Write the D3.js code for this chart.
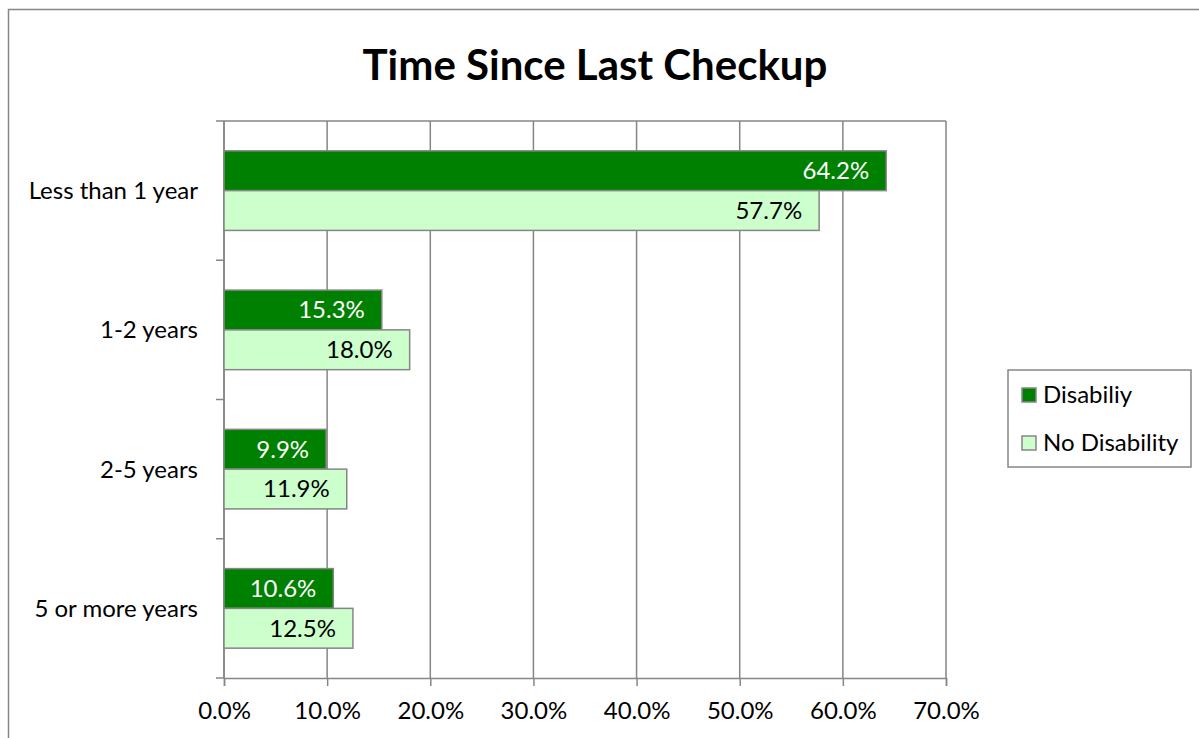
<!DOCTYPE html>
<html>
<head>
<meta charset="utf-8">
<script src="https://cdn.jsdelivr.net/npm/d3@7"></script>
<style>
  body { margin: 0; background: #fff; }
  svg { display: block; font-family: Lato, "Open Sans", sans-serif; }
</style>
</head>
<body>
<script>
const categories = ["Less than 1 year", "1-2 years", "2-5 years", "5 or more years"];
const seriesNames = ["Disabiliy", "No Disability"];
const disability = [64.2, 15.3, 9.9, 10.6];
const noDisability = [57.7, 18.0, 11.9, 12.5];
const xTicks = [0, 10, 20, 30, 40, 50, 60, 70];

const width = 1199, height = 738;
const colors = ["#008000", "#CCFFCC"];
const gridColor = "#868686";
const fontSize = "24px";

const svg = d3.select("body").append("svg")
  .attr("width", width).attr("height", height);

// outer chart border (runs off the right/bottom of the picture)
svg.append("rect")
  .attr("x", 8.5).attr("y", 9.5)
  .attr("width", width + 20).attr("height", height + 20)
  .attr("fill", "#fff").attr("stroke", gridColor).attr("stroke-width", 1.5);

svg.append("text")
  .attr("x", 595).attr("y", 80)
  .attr("text-anchor", "middle")
  .style("font-size", "42px").style("font-weight", "bold")
  .text("Time Since Last Checkup");

const plot = {left: 224, right: 946, top: 121, bottom: 678};

const x = d3.scaleLinear().domain([0, 70]).range([plot.left, plot.right]);
const y = d3.scaleBand().domain(categories).range([plot.top, plot.bottom])
  .paddingInner(0.75 / 1.75).paddingOuter(0.75 / 3.5);
const ySub = d3.scaleBand().domain(seriesNames).range([0, y.bandwidth()]);

// vertical gridlines
svg.append("g").selectAll("line").data(xTicks).join("line")
  .attr("x1", d => x(d)).attr("x2", d => x(d))
  .attr("y1", plot.top).attr("y2", plot.bottom)
  .attr("stroke", gridColor).attr("stroke-width", 1.5);

// top border of plot
svg.append("line")
  .attr("x1", plot.left).attr("x2", plot.right).attr("y1", plot.top).attr("y2", plot.top)
  .attr("stroke", gridColor).attr("stroke-width", 1.5);

// x axis
const xAxis = svg.append("g")
  .attr("transform", `translate(0,${plot.bottom})`)
  .call(d3.axisBottom(x).tickValues(xTicks).tickSize(8).tickPadding(16)
    .tickFormat(d => d.toFixed(1) + "%"));
xAxis.select(".domain").attr("stroke", gridColor).attr("stroke-width", 1.5);
xAxis.selectAll(".tick line").attr("stroke", gridColor).attr("stroke-width", 1.5);
xAxis.selectAll("text").style("font-size", fontSize).attr("fill", "#000")
  .style("font-family", "Lato, sans-serif");

// y axis
const bandEdges = categories.map(c => y(c) - y.step() * y.paddingInner() / 2);
bandEdges.push(plot.bottom);
const yAxis = svg.append("g");
yAxis.append("line")
  .attr("x1", plot.left).attr("x2", plot.left).attr("y1", plot.top).attr("y2", plot.bottom)
  .attr("stroke", gridColor).attr("stroke-width", 1.5);
yAxis.selectAll("line.tk").data(bandEdges).join("line").attr("class", "tk")
  .attr("x1", plot.left - 8).attr("x2", plot.left)
  .attr("y1", d => d).attr("y2", d => d)
  .attr("stroke", gridColor).attr("stroke-width", 1.5);
yAxis.selectAll("text").data(categories).join("text")
  .attr("x", plot.left - 26)
  .attr("y", d => y(d) + y.bandwidth() / 2)
  .attr("dy", "0.35em")
  .attr("text-anchor", "end")
  .style("font-size", fontSize)
  .text(d => d);

// bars
const series = [disability, noDisability];
series.forEach((vals, si) => {
  const g = svg.append("g");
  const rows = categories.map((c, i) => ({c, v: vals[i]}));
  g.selectAll("rect").data(rows).join("rect")
    .attr("x", x(0))
    .attr("y", d => y(d.c) + ySub(seriesNames[si]))
    .attr("width", d => x(d.v) - x(0))
    .attr("height", ySub.bandwidth())
    .attr("fill", colors[si])
    .attr("stroke", gridColor).attr("stroke-width", 1.5);
  g.selectAll("text").data(rows).join("text")
    .attr("x", d => x(d.v) - 17)
    .attr("y", d => y(d.c) + ySub(seriesNames[si]) + ySub.bandwidth() / 2)
    .attr("dy", "0.35em")
    .attr("text-anchor", "end")
    .attr("fill", si === 0 ? "#fff" : "#000")
    .style("font-size", fontSize)
    .text(d => d.v.toFixed(1) + "%");
});

// legend
const legend = svg.append("g");
legend.append("rect")
  .attr("x", 1008).attr("y", 370).attr("width", 183).attr("height", 97)
  .attr("fill", "#fff").attr("stroke", gridColor).attr("stroke-width", 1.5);
seriesNames.forEach((name, i) => {
  const ly = 395 + i * 48;
  legend.append("rect")
    .attr("x", 1022).attr("y", ly - 7).attr("width", 14).attr("height", 14)
    .attr("fill", colors[i]).attr("stroke", gridColor).attr("stroke-width", 1.5);
  legend.append("text")
    .attr("x", 1043).attr("y", ly).attr("dy", "0.35em")
    .style("font-size", fontSize)
    .text(name);
});
</script>
</body>
</html>
